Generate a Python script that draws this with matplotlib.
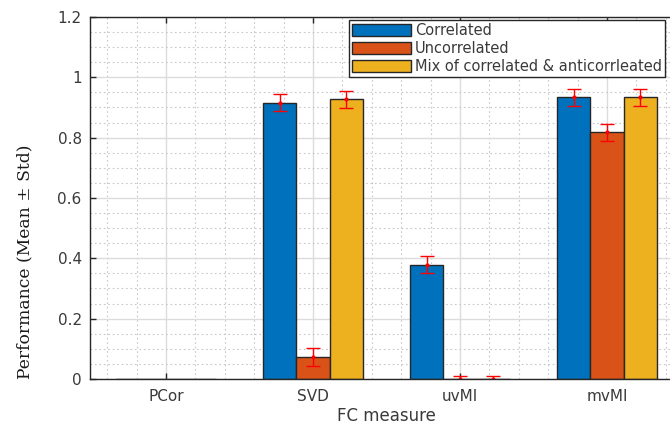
import numpy as np
import matplotlib.pyplot as plt
from matplotlib.ticker import MultipleLocator

# data
measures = ['PCor', 'SVD', 'uvMI', 'mvMI']
series = ['Correlated', 'Uncorrelated', 'Mix of correlated & anticorrleated']
mean_corr = [0.0, 0.916, 0.379, 0.934]
mean_uncorr = [0.0, 0.073, 0.0, 0.818]
mean_mix = [0.0, 0.927, 0.0, 0.934]
std_corr = [0.0, 0.028, 0.029, 0.028]
std_uncorr = [0.0, 0.029, 0.009, 0.028]
std_mix = [0.0, 0.028, 0.009, 0.028]
yticks = [0, 0.2, 0.4, 0.6, 0.8, 1.0, 1.2]
ytick_labels = ['0', '0.2', '0.4', '0.6', '0.8', '1', '1.2']

colors = ['#0072BD', '#D95319', '#EDB120']
axis_col = '#262626'
text_col = '#3a3a3a'

fig = plt.figure(figsize=(6.7, 4.23), dpi=100)
ax = fig.add_axes([90/670, 1-379/423, 593/670, 362/423])

x = np.arange(1, len(measures)+1)
width = 0.225
offsets = [-width, 0, width]
means = [mean_corr, mean_uncorr, mean_mix]
stds = [std_corr, std_uncorr, std_mix]

for i in range(3):
    ax.bar(x + offsets[i], means[i], width, color=colors[i], edgecolor=axis_col,
           linewidth=1, label=series[i], zorder=2)

# error bars only where a std was shown
for i in range(3):
    m = np.array(means[i])
    s = np.array(stds[i])
    keep = s > 0
    ax.errorbar((x + offsets[i])[keep], m[keep], yerr=s[keep], fmt='.', color='red',
                ecolor='red', elinewidth=1, capsize=4.7, capthick=1, markersize=4, zorder=3)

ax.set_xlim(0.483, 4.517)
ax.set_ylim(0, 1.2)
ax.set_xticks(x)
ax.set_xticklabels(measures)
ax.set_yticks(yticks)
ax.set_yticklabels(ytick_labels)
ax.yaxis.set_minor_locator(MultipleLocator(0.05))
ax.xaxis.set_minor_locator(MultipleLocator(0.2))

ax.grid(True, which='major', color='#dcdcdc', lw=1, ls='-', zorder=0)
ax.grid(True, which='minor', color='#c8c8c8', lw=0.8, ls=(0, (1.5, 2.5)), zorder=0)
ax.set_axisbelow(True)

ax.tick_params(which='major', direction='in', length=4, width=1, color=axis_col,
               labelcolor=text_col, labelsize=11, top=True, right=True)
ax.tick_params(axis='x', pad=7)
ax.tick_params(axis='y', pad=6)
ax.tick_params(which='minor', length=0)
for sp in ax.spines.values():
    sp.set_color(axis_col)
    sp.set_linewidth(1)
    sp.set_zorder(4)

ax.set_xlabel('FC measure', fontsize=12, color=text_col, labelpad=2)
ax.set_ylabel('Performance (Mean ± Std)', fontsize=12.3, family='DejaVu Serif',
              color='#1a1a1a')
# the label sits lower than the axes centre in the original
ax.yaxis.set_label_coords(-0.096, 0.323)

leg = ax.legend(loc='upper right', bbox_to_anchor=(665/670, 1-20/423),
                bbox_transform=fig.transFigure, borderaxespad=0, fontsize=10.5,
                fancybox=False, edgecolor=axis_col, framealpha=1,
                handlelength=4.0, handleheight=0.9, handletextpad=0.3,
                labelspacing=0.2, borderpad=0.2)
leg.get_frame().set_linewidth(1)
for t in leg.get_texts():
    t.set_color(text_col)

fig.savefig('out.png', dpi=100)
